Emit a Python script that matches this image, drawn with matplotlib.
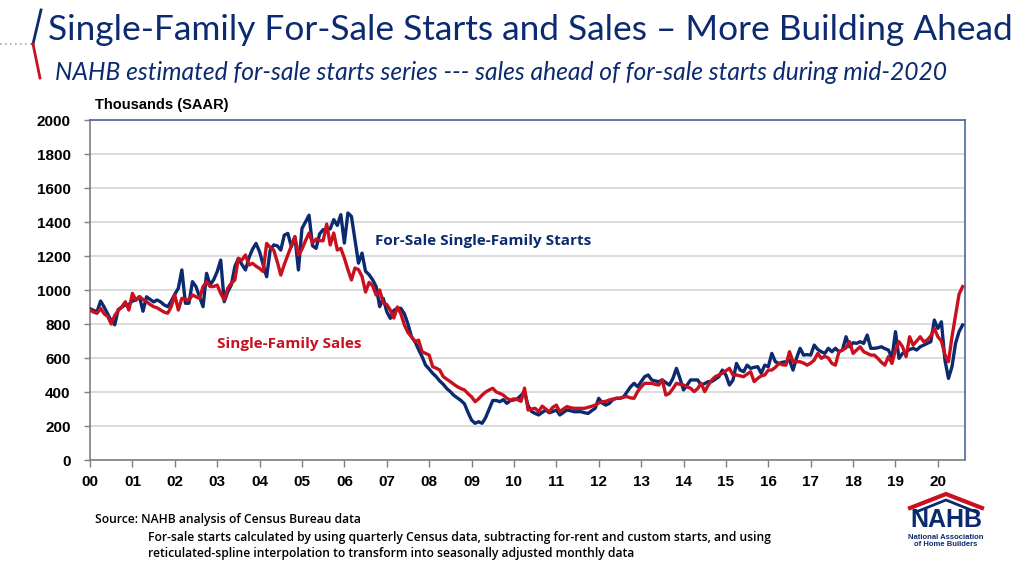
import matplotlib
matplotlib.use('Agg')
import matplotlib.pyplot as plt
import numpy as np

# ---------------- data (thousands, SAAR, monthly Jan-2000 .. Aug-2020) -------------
x_tick_labels = ['00', '01', '02', '03', '04', '05', '06', '07', '08', '09', '10',
                 '11', '12', '13', '14', '15', '16', '17', '18', '19', '20']
y_ticks = [0, 200, 400, 600, 800, 1000, 1200, 1400, 1600, 1800, 2000]

starts_2000_2004 = [
    890, 880, 873, 935, 900, 860, 820, 795, 885, 900, 912, 915,
    935, 941, 961, 875, 960, 945, 930, 941, 930, 912, 902, 935,
    975, 1010, 1118, 922, 922, 1049, 1020, 960, 902, 1098, 1029, 1060,
    1108, 1176, 931, 990, 1030, 1137, 1186, 1150, 1118, 1190, 1240, 1274,
    1225, 1150, 1078, 1235, 1265, 1260, 1235, 1323, 1333, 1255, 1313, 1118]
starts_2005_2009 = [
    1362, 1400, 1440, 1260, 1245, 1330, 1355, 1355, 1360, 1414, 1380, 1443,
    1276, 1453, 1433, 1296, 1158, 1217, 1110, 1090, 1060, 1020, 902, 951,
    873, 833, 880, 892, 892, 860, 800, 725, 696, 650, 608, 558,
    535, 510, 490, 465, 445, 420, 402, 380, 365, 350, 330, 280,
    235, 216, 225, 216, 250, 300, 350, 350, 343, 355, 333, 350]
starts_2010_2014 = [
    353, 360, 380, 400, 320, 285, 274, 265, 280, 294, 278, 285,
    294, 265, 280, 294, 290, 284, 284, 284, 278, 274, 290, 304,
    363, 335, 323, 333, 355, 363, 363, 370, 400, 430, 451, 431,
    460, 490, 500, 471, 465, 461, 471, 455, 441, 480, 539, 480,
    412, 440, 471, 471, 471, 441, 450, 461, 461, 475, 490, 529]
starts_2015_2020 = [
    500, 441, 470, 568, 530, 519, 558, 539, 545, 549, 510, 558,
    549, 627, 578, 568, 575, 578, 588, 529, 600, 657, 617, 620,
    617, 676, 650, 637, 627, 657, 637, 657, 637, 647, 725, 666,
    690, 686, 696, 686, 735, 657, 657, 660, 666, 655, 647, 600,
    755, 598, 627, 637, 650, 657, 647, 666, 676, 686, 696, 823,
    774, 813, 588, 480, 549, 686, 755, 794]

sales_2000_2004 = [
    882, 870, 863, 892, 860, 845, 800, 850, 880, 900, 931, 882,
    980, 941, 961, 945, 931, 915, 902, 895, 882, 870, 863, 902,
    971, 882, 951, 945, 941, 971, 960, 951, 1020, 1049, 1020, 1020,
    1029, 980, 941, 1010, 1040, 1059, 1186, 1176, 1206, 1147, 1157, 1140,
    1127, 1108, 1274, 1250, 1235, 1167, 1088, 1150, 1206, 1260, 1313, 1206]
sales_2005_2009 = [
    1240, 1290, 1335, 1276, 1300, 1290, 1290, 1388, 1265, 1335, 1235, 1245,
    1188, 1120, 1059, 1129, 1120, 1080, 988, 1045, 1025, 970, 1000, 923,
    915, 882, 835, 900, 860, 794, 750, 725, 696, 705, 637, 627,
    617, 549, 540, 529, 490, 475, 461, 445, 431, 420, 412, 390,
    372, 343, 360, 382, 400, 412, 422, 400, 392, 382, 363, 353]
sales_2010_2014 = [
    360, 355, 345, 423, 294, 300, 304, 284, 317, 300, 284, 310,
    323, 284, 300, 314, 308, 304, 304, 304, 304, 310, 316, 323,
    335, 343, 345, 353, 358, 363, 363, 370, 373, 365, 363, 402,
    430, 451, 451, 451, 445, 441, 471, 382, 392, 420, 451, 445,
    441, 430, 422, 402, 420, 451, 402, 440, 471, 490, 500, 510]
sales_2015_2020 = [
    525, 539, 500, 500, 495, 490, 505, 519, 461, 480, 495, 500,
    529, 529, 545, 568, 560, 558, 637, 578, 578, 578, 570, 558,
    570, 588, 627, 598, 610, 600, 568, 558, 637, 647, 660, 696,
    627, 647, 666, 637, 627, 617, 617, 598, 575, 558, 608, 568,
    647, 696, 666, 608, 725, 676, 700, 725, 696, 706, 730, 774,
    725, 700, 620, 578, 725, 850, 975, 1020]

starts = np.array(starts_2000_2004 + starts_2005_2009 + starts_2010_2014 + starts_2015_2020)
sales = np.array(sales_2000_2004 + sales_2005_2009 + sales_2010_2014 + sales_2015_2020)
t = np.arange(len(starts)) / 12.0

NAVY = '#0b2a6f'
RED = '#c8101e'

W, H = 1024, 576
fig = plt.figure(figsize=(W / 100, H / 100), dpi=100)
fig.patch.set_facecolor('white')


def fx(px):
    return px / W


def fy(py):
    return 1 - py / H


ax = fig.add_axes([fx(90), fy(460), (965 - 90) / W, (460 - 120) / H])
ax.plot(t, starts, color=NAVY, lw=2.4, solid_joinstyle='round', zorder=3)
ax.plot(t, sales, color=RED, lw=2.4, solid_joinstyle='round', zorder=4)

ax.set_xlim(0, 20.64)
ax.set_ylim(0, 2000)
ax.set_yticks(y_ticks)
ax.set_yticklabels([str(v) for v in y_ticks])
ax.set_xticks(range(len(x_tick_labels)))
ax.set_xticklabels(x_tick_labels)
ax.grid(axis='y', color='#d9d9d9', lw=1.3, zorder=0)
ax.set_axisbelow(True)

tick_font = dict(family='Liberation Sans', weight='bold', size=11)
for lab in ax.get_yticklabels() + ax.get_xticklabels():
    lab.set_fontproperties(matplotlib.font_manager.FontProperties(**tick_font))
ax.tick_params(axis='y', direction='out', length=4, width=1, color='#7f7f7f', pad=10)
ax.tick_params(axis='x', direction='out', length=5, width=1, color='#7f7f7f', pad=6)

for s in ['left', 'bottom']:
    ax.spines[s].set_color('#7f7f7f')
    ax.spines[s].set_linewidth(1.2)
for s in ['top', 'right']:
    ax.spines[s].set_color('#4a66a0')
    ax.spines[s].set_linewidth(1.2)

# in-chart labels
ax.text(6.73, 1290, 'For-Sale Single-Family Starts', color=NAVY, fontsize=11,
        fontweight='bold', family='Open Sans', va='center', ha='left')
ax.text(3.0, 680, 'Single-Family Sales', color=RED, fontsize=11,
        fontweight='bold', family='Open Sans', va='center', ha='left')

fig.text(fx(95), fy(112), 'Thousands (SAAR)', fontsize=10.5, fontweight='bold',
         family='Liberation Sans', va='bottom', ha='left')

# title and subtitle
fig.text(fx(48), fy(30), 'Single-Family For-Sale Starts and Sales \u2013 More Building Ahead',
         fontsize=25.4, color=NAVY, family='Lato', va='center', ha='left')
fig.text(fx(55), fy(72), 'NAHB estimated for-sale starts series --- sales ahead of for-sale starts during mid-2020',
         fontsize=17.7, color=NAVY, family='Lato', style='italic', va='center', ha='left')

# left decoration
fig.add_artist(plt.Line2D([fx(0), fx(32)], [fy(44), fy(44)], color='#a6a6a6', lw=1.2,
                          ls=(0, (1, 2))))
fig.add_artist(plt.Line2D([fx(41), fx(33)], [fy(10), fy(44)], color=NAVY, lw=2))
fig.add_artist(plt.Line2D([fx(33), fx(40)], [fy(44), fy(78)], color=RED, lw=2))

# source notes
fig.text(fx(95), fy(520), 'Source: NAHB analysis of Census Bureau data', fontsize=8.7,
         family='Open Sans', fontweight='semibold', va='center', ha='left')
fig.text(fx(148), fy(538), 'For-sale starts calculated by using quarterly Census data, subtracting for-rent and custom starts, and using',
         fontsize=8.7, family='Open Sans', fontweight='semibold', va='center', ha='left')
fig.text(fx(148), fy(554), 'reticulated-spline interpolation to transform into seasonally adjusted monthly data',
         fontsize=8.7, family='Open Sans', fontweight='semibold', va='center', ha='left')

# NAHB logo
fig.add_artist(plt.Line2D([fx(910), fx(946), fx(982)], [fy(508), fy(494), fy(508)],
                          color=RED, lw=3, solid_joinstyle='miter'))
fig.add_artist(plt.Line2D([fx(916), fx(946), fx(976)], [fy(512), fy(500), fy(512)],
                          color=NAVY, lw=2, solid_joinstyle='miter'))
fig.text(fx(946), fy(520), 'NAHB', fontsize=18, fontweight='bold', color=NAVY,
         family='Liberation Sans', va='center', ha='center')
fig.text(fx(946), fy(541), 'National Association\nof Home Builders', fontsize=5.5,
         fontweight='bold', color=NAVY, family='Liberation Sans', va='center',
         ha='center', linespacing=1.1)

fig.savefig('out.png', dpi=100, facecolor='white')
